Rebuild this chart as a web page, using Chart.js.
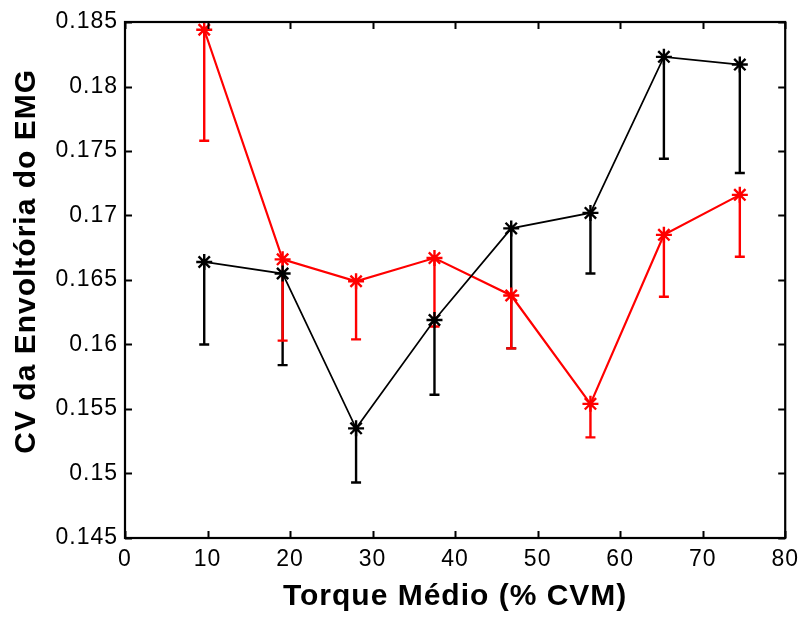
<!DOCTYPE html>
<html>
<head>
<meta charset="utf-8">
<script src="https://cdn.jsdelivr.net/npm/chart.js@4/dist/chart.umd.min.js"></script>
<style>
  html, body { margin: 0; padding: 0; background: #fff; }
  canvas { display: block; }
</style>
</head>
<body>
<canvas id="cvChart" width="807" height="617"></canvas>
<script>
// torque levels (% CVM)
const torque = [9.6, 19.1, 28.0, 37.5, 46.8, 56.4, 65.3, 74.5];

// black series: mean and lower end of error bar
const cvPreto = [0.1664, 0.1655, 0.1535, 0.1619, 0.1690, 0.1702, 0.1823, 0.1817];
const cvPretoInf = [0.1600, 0.1584, 0.1493, 0.1561, 0.1597, 0.1655, 0.1744, 0.1733];

// red series: mean and lower end of error bar
const cvVermelho = [0.1844, 0.1666, 0.1649, 0.1667, 0.1638, 0.1554, 0.1685, 0.1716];
const cvVermelhoInf = [0.1758, 0.1603, 0.1604, 0.1614, 0.1597, 0.1528, 0.1637, 0.1668];

const yTicks = [0.145, 0.15, 0.155, 0.16, 0.165, 0.17, 0.175, 0.18, 0.185];
const xTicks = [0, 10, 20, 30, 40, 50, 60, 70, 80];

const FONT = 'Liberation Sans, Arial, Helvetica, sans-serif';

// the reference text is a bit wider than Liberation Sans
const letterSpacing = {
    id: 'letterSpacing',
    beforeUpdate(chart) { chart.ctx.letterSpacing = '1px'; },
    beforeDraw(chart) { chart.ctx.letterSpacing = '1px'; }
};

// one-sided (lower) error bars, drawn through the chart's scales
const errorBars = {
    id: 'errorBars',
    beforeDatasetsDraw(chart) {
        const { ctx, scales: { x, y } } = chart;
        chart.data.datasets.forEach(ds => {
            ctx.save();
            ctx.strokeStyle = ds.borderColor;
            ctx.lineWidth = 2.4;
            ds.data.forEach((p, i) => {
                const px = x.getPixelForValue(p.x);
                const top = y.getPixelForValue(p.y);
                const bot = y.getPixelForValue(ds.lower[i]);
                ctx.beginPath();
                ctx.moveTo(px, top);
                ctx.lineTo(px, bot);
                ctx.moveTo(px - 5, bot);
                ctx.lineTo(px + 5, bot);
                ctx.stroke();
            });
            ctx.restore();
        });
    }
};

// MATLAB-like box with inward tick marks on all four sides
const boxFrame = {
    id: 'boxFrame',
    afterDraw(chart) {
        const { ctx, chartArea: a, scales: { x, y } } = chart;
        ctx.save();
        ctx.strokeStyle = '#000';
        ctx.lineWidth = 2.2;
        ctx.strokeRect(a.left, a.top, a.right - a.left, a.bottom - a.top);
        ctx.lineWidth = 2;
        ctx.beginPath();
        xTicks.forEach(v => {
            const px = Math.round(x.getPixelForValue(v)) + 0.5;
            ctx.moveTo(px, a.bottom); ctx.lineTo(px, a.bottom - 7);
            ctx.moveTo(px, a.top); ctx.lineTo(px, a.top + 7);
        });
        yTicks.forEach(v => {
            const py = Math.round(y.getPixelForValue(v)) + 0.5;
            ctx.moveTo(a.left, py); ctx.lineTo(a.left + 7, py);
            ctx.moveTo(a.right, py); ctx.lineTo(a.right - 7, py);
        });
        ctx.stroke();
        ctx.restore();
    }
};

const toPoints = vals => vals.map((v, i) => ({ x: torque[i], y: v }));

new Chart(document.getElementById('cvChart').getContext('2d'), {
    type: 'line',
    data: {
        datasets: [
            {
                label: 'preto',
                data: toPoints(cvPreto),
                lower: cvPretoInf,
                borderColor: '#000000',
                backgroundColor: '#000000',
                borderWidth: 1.7,
                pointStyle: 'star',
                pointRadius: 8,
                pointBorderWidth: 2.4,
                tension: 0
            },
            {
                label: 'vermelho',
                data: toPoints(cvVermelho),
                lower: cvVermelhoInf,
                borderColor: '#ff0000',
                backgroundColor: '#ff0000',
                borderWidth: 2.2,
                pointStyle: 'star',
                pointRadius: 8,
                pointBorderWidth: 2.4,
                tension: 0
            }
        ]
    },
    options: {
        responsive: false,
        animation: false,
        layout: { padding: { top: 22, right: 16, left: 0, bottom: 0 } },
        plugins: {
            legend: { display: false },
            tooltip: { enabled: false }
        },
        scales: {
            x: {
                type: 'linear',
                min: 0,
                max: 80,
                afterBuildTicks: s => { s.ticks = xTicks.map(v => ({ value: v })); },
                afterFit: s => { s.height = 79; },
                grid: { display: false, drawTicks: false },
                border: { display: false },
                ticks: {
                    color: '#000',
                    padding: 8,
                    font: { family: FONT, size: 23 }
                },
                title: {
                    display: true,
                    text: 'Torque Médio (% CVM)',
                    color: '#000',
                    padding: { top: 2, bottom: 2 },
                    font: { family: FONT, size: 30, weight: 'bold' }
                }
            },
            y: {
                type: 'linear',
                min: 0.145,
                max: 0.185,
                afterBuildTicks: s => { s.ticks = yTicks.map(v => ({ value: v })); },
                afterFit: s => { s.width = 125; },
                grid: { display: false, drawTicks: false },
                border: { display: false },
                ticks: {
                    color: '#000',
                    padding: 7,
                    font: { family: FONT, size: 23 },
                    callback: v => String(Number(v.toFixed(3)))
                },
                title: {
                    display: true,
                    // leading spaces nudge the label up, as in the reference
                    text: '    CV da Envoltória do EMG',
                    color: '#000',
                    padding: { top: 9, bottom: 0 },
                    font: { family: FONT, size: 30, weight: 'bold' }
                }
            }
        }
    },
    plugins: [letterSpacing, errorBars, boxFrame]
});
</script>
</body>
</html>
